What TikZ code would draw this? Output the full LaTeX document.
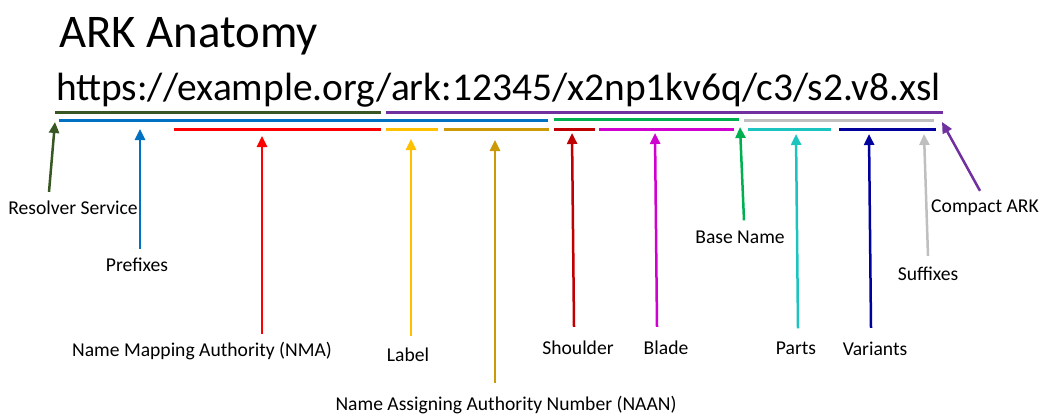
\documentclass[tikz,border=0pt]{standalone}
\usepackage{fontspec}
\setmainfont{Carlito}
\usepackage[svgnames]{xcolor}
\usetikzlibrary{arrows.meta}

\definecolor{resolverc}{HTML}{385723}
\definecolor{compactc}{HTML}{7030A0}
\definecolor{prefixc}{HTML}{0070C0}
\definecolor{nmac}{HTML}{FF0000}
\definecolor{labelc}{HTML}{FFC000}
\definecolor{naanc}{HTML}{CC9A06}
\definecolor{basec}{HTML}{00B050}
\definecolor{suffixc}{HTML}{BFBFBF}
\definecolor{shoulderc}{HTML}{C00000}
\definecolor{bladec}{HTML}{D000D0}
\definecolor{partsc}{HTML}{1CC4C0}
\definecolor{variantc}{HTML}{00009C}

\begin{document}
\begin{tikzpicture}[x=1pt,y=-1pt,
  font=\fontsize{19.6}{22}\selectfont,
  tagn/.style={inner sep=0pt},
  uline/.style={line width=3pt},
  pointer/.style={line width=2.5pt,-{Triangle[length=11pt,width=10pt]}}]
  \useasboundingbox (0,0) rectangle (1040,415);

  \node[tagn, anchor=base west, font=\fontsize{46.8}{52}\selectfont] (title) at (59,47) {ARK Anatomy};
  \node[tagn, anchor=base west, font=\fontsize{39.4}{44}\selectfont] (url) at (56,100)
    {https://example.org/ark:12345/x2np1kv6q/c3/s2.v8.xsl};

  % underlines, top row
  \draw[uline, resolverc] (55,112) -- (381,112);
  \draw[uline, compactc] (386,112) -- (943,112);
  % middle row
  \draw[uline, prefixc] (59,120) -- (548,120);
  \draw[uline, basec] (554,119) -- (739,119);
  \draw[uline, suffixc] (744,120) -- (934,120);
  % bottom row
  \draw[uline, nmac] (174,129) -- (381,129);
  \draw[uline, labelc] (386,129) -- (438,129);
  \draw[uline, naanc] (444,129) -- (549,129);
  \draw[uline, shoulderc] (554,129) -- (595,129);
  \draw[uline, bladec] (599,129) -- (734,129);
  \draw[uline, partsc] (748,129) -- (831,129);
  \draw[uline, variantc] (839,129) -- (936,129);

  % arrow tips under the parts
  \coordinate (resTip) at (55,122);
  \coordinate (preTip) at (140,129);
  \coordinate (nmaTip) at (262,136);
  \coordinate (labTip) at (411,139);
  \coordinate (naanTip) at (495,140);
  \coordinate (shoTip) at (572,133);
  \coordinate (blaTip) at (655,133);
  \coordinate (baseTip) at (740,127);
  \coordinate (partTip) at (796,134);
  \coordinate (varTip) at (869,134);
  \coordinate (sufTip) at (924,134);
  \coordinate (cmpTip) at (942,122);

  % labels
  \node[tagn] (res) at (73,208) {Resolver Service};
  \node[tagn] (pre) at (137,265) {Prefixes};
  \node[tagn] (nma) at (202,351) {Name Mapping Authority (NMA)};
  \node[tagn] (lab) at (408,355) {Label};
  \node[tagn] (naan) at (506,405) {Name Assigning Authority Number (NAAN)};
  \node[tagn] (sho) at (578,348) {Shoulder};
  \node[tagn] (bla) at (666,348) {Blade};
  \node[tagn] (base) at (740,237) {Base Name};
  \node[tagn] (part) at (796,348) {Parts};
  \node[tagn] (var) at (875,349) {Variants};
  \node[tagn] (suf) at (928,274) {Suffixes};
  \node[tagn] (cmp) at (985,208) {Compact ARK};

  \draw[pointer, resolverc] ([xshift=-24pt,yshift=9pt]res.north) -- (resTip);
  \draw[pointer, prefixc] ([xshift=3pt,yshift=9pt]pre.north) -- (preTip);
  \draw[pointer, nmac] ([xshift=60pt,yshift=8pt]nma.north) -- (nmaTip);
  \draw[pointer, labelc] ([xshift=3pt,yshift=12pt]lab.north) -- (labTip);
  \draw[pointer, naanc] ([xshift=-11pt,yshift=13pt]naan.north) -- (naanTip);
  \draw[pointer, shoulderc] ([xshift=-4pt,yshift=14pt]sho.north) -- (shoTip);
  \draw[pointer, bladec] ([xshift=-9pt,yshift=14pt]bla.north) -- (blaTip);
  \draw[pointer, basec] ([xshift=4pt,yshift=10pt]base.north) -- (baseTip);
  \draw[pointer, partsc] ([xshift=2pt,yshift=13pt]part.north) -- (partTip);
  \draw[pointer, variantc] ([xshift=-4pt,yshift=14pt]var.north) -- (varTip);
  \draw[pointer, suffixc] ([yshift=11pt]suf.north) -- (sufTip);
  \draw[pointer, compactc] ([xshift=-5pt,yshift=9pt]cmp.north) -- (cmpTip);
\end{tikzpicture}
\end{document}
